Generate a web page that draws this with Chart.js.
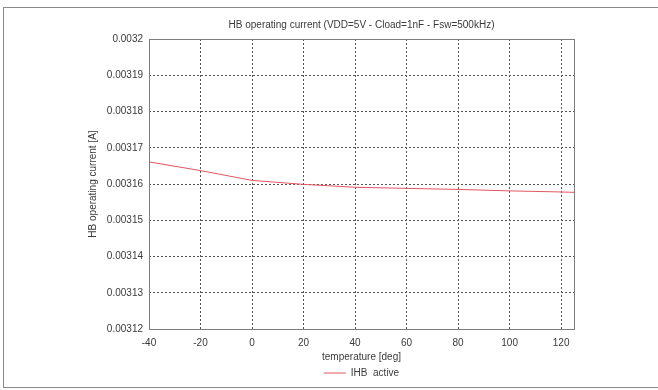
<!DOCTYPE html>
<html><head><meta charset="utf-8">
<script src="https://cdn.jsdelivr.net/npm/chart.js@4"></script>
<style>
html,body{margin:0;padding:0;background:#fff;}
#wrap{position:relative;width:658px;height:390px;}
#frame{position:absolute;left:3px;top:7px;width:660px;height:381px;border-left:1px solid #8a8a8a;border-top:1px solid #8a8a8a;border-bottom:1px solid #8a8a8a;box-sizing:border-box;}
canvas{position:absolute;left:0;top:0;}
</style></head>
<body>
<div id="wrap"><div id="frame"></div><canvas id="c" width="658" height="390"></canvas></div>
<script>
const temperatures = [-40, -20, 0, 20, 40, 60, 80, 100, 120, 125];
const ihbActive = [0.0031661, 0.0031637, 0.003161, 0.0031599, 0.0031591, 0.0031588, 0.0031585, 0.0031581, 0.0031578, 0.0031577];
const xTicks = [-40, -20, 0, 20, 40, 60, 80, 100, 120];
const yTicks = [0.00312, 0.00313, 0.00314, 0.00315, 0.00316, 0.00317, 0.00318, 0.00319, 0.0032];
const yTickLabels = ['0.00312','0.00313','0.00314','0.00315','0.00316','0.00317','0.00318','0.00319','0.0032'];

const FONT = 'Liberation Sans, Arial, sans-serif';
const textColor = '#3a3a3a';

const borderPlugin = {
  id: 'plotBorder',
  afterDraw(chart) {
    const a = chart.chartArea, ctx = chart.ctx;
    ctx.save();
    ctx.strokeStyle = '#7c7c7c';
    ctx.lineWidth = 1;
    ctx.strokeRect(Math.round(a.left) + 0.5, Math.round(a.top) + 0.5, Math.round(a.right - a.left), Math.round(a.bottom - a.top));
    ctx.restore();
  }
};

new Chart(document.getElementById('c'), {
  type: 'line',
  data: {
    datasets: [{
      label: 'IHB  active',
      data: temperatures.map((t, i) => ({x: t, y: ihbActive[i]})),
      borderColor: '#e25563',
      backgroundColor: '#e25563',
      borderWidth: 1,
      pointRadius: 0,
      tension: 0,
      fill: false
    }]
  },
  options: {
    responsive: false,
    animation: false,
    devicePixelRatio: 1,
    layout: {padding: {left: 0, right: 84, top: 19, bottom: 2}},
    plugins: {
      title: {
        display: true,
        text: 'HB operating current (VDD=5V - Cload=1nF - Fsw=500kHz)',
        fullSize: false,
        color: textColor,
        font: {family: FONT, size: 10, weight: 'normal'},
        padding: {top: 0, bottom: 8}
      },
      legend: {
        position: 'bottom',
        fullSize: false,
        labels: {
          color: textColor,
          font: {family: FONT, size: 10},
          usePointStyle: true,
          pointStyle: 'line',
          pointStyleWidth: 22,
          boxHeight: 10,
          padding: 5
        }
      },
      tooltip: {enabled: false}
    },
    scales: {
      x: {
        type: 'linear',
        min: -40, max: 125,
        afterBuildTicks(s) { s.ticks = xTicks.map(v => ({value: v})); },
        afterFit(s) { s.height = 34; },
        ticks: {color: textColor, font: {family: FONT, size: 10}, padding: 8, maxRotation: 0, autoSkip: false},
        grid: {color: '#555', lineWidth: 1, drawTicks: false},
        border: {display: false, dash: [2, 2]},
        title: {display: true, text: 'temperature [deg]', color: textColor, font: {family: FONT, size: 10}, padding: {top: 0, bottom: 0}}
      },
      y: {
        type: 'linear',
        min: 0.00312, max: 0.0032,
        afterBuildTicks(s) { s.ticks = yTicks.map(v => ({value: v})); },
        afterFit(s) { s.width = 149; },
        ticks: {
          color: textColor, font: {family: FONT, size: 10}, padding: 6, autoSkip: false,
          callback(v, i) { return yTickLabels[i]; }
        },
        grid: {color: '#555', lineWidth: 1, drawTicks: false},
        border: {display: false, dash: [2, 2]},
        title: {display: true, text: 'HB operating current [A]', color: textColor, font: {family: FONT, size: 10}, padding: {top: 87, bottom: 0}}
      }
    }
  },
  plugins: [borderPlugin]
});
</script>
</body></html>
